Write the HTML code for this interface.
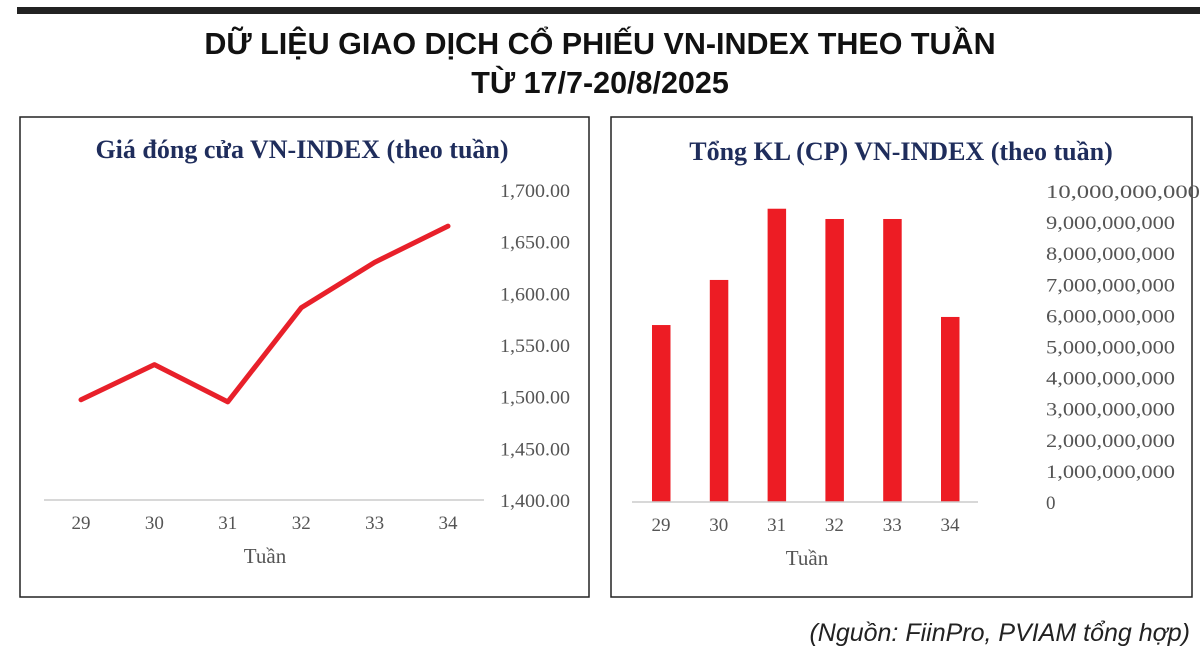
<!DOCTYPE html>
<html><head><meta charset="utf-8"><style>
body{margin:0;width:1200px;height:657px;background:#fff;overflow:hidden;position:relative;font-family:"Liberation Sans",sans-serif}
.t{position:absolute;left:0;width:1200px;text-align:center;font-weight:bold;font-size:30.5px;color:#111;letter-spacing:0px}
</style></head><body>
<div style="position:absolute;left:17px;top:7px;width:1183px;height:7px;background:#222"></div>
<div class="t" style="top:27px">DỮ LIỆU GIAO DỊCH CỔ PHIẾU VN-INDEX THEO TUẦN</div>
<div class="t" style="top:66px">TỪ 17/7-20/8/2025</div>
<svg width="1200" height="657" style="position:absolute;left:0;top:0" id="svg">
<rect x="20" y="117" width="569" height="480" fill="none" stroke="#222" stroke-width="1.5"/>
<rect x="611" y="117" width="581" height="480" fill="none" stroke="#222" stroke-width="1.5"/>
<text x="302" y="158" text-anchor="middle" font-family="Liberation Serif,serif" font-weight="bold" font-size="26" fill="#1f2d5c">Giá đóng cửa VN-INDEX (theo tuần)</text>
<text x="901" y="160" text-anchor="middle" font-family="Liberation Serif,serif" font-weight="bold" font-size="26" fill="#1f2d5c">Tổng KL (CP) VN-INDEX (theo tuần)</text>
<g id="left"></g><g id="right"></g>
<text x="265" y="563" text-anchor="middle" font-family="Liberation Serif,serif" font-size="21" fill="#555">Tuần</text>
<text x="807" y="565" text-anchor="middle" font-family="Liberation Serif,serif" font-size="21" fill="#555">Tuần</text>
<text x="1190" y="641" text-anchor="end" font-style="italic" font-size="25" fill="#222">(Nguồn: FiinPro, PVIAM tổng hợp)</text>
</svg>
<script>
const weeks=["29","30","31","32","33","34"];
const closePrice=[1497,1531,1495,1586,1630,1665];
const priceTicks=[1400,1450,1500,1550,1600,1650,1700];
const volume=[5.69e9,7.14e9,9.43e9,9.1e9,9.1e9,5.95e9];
const volTicks=[0,1e9,2e9,3e9,4e9,5e9,6e9,7e9,8e9,9e9,10e9];
const NS="http://www.w3.org/2000/svg";
function mk(tag,attrs,parent,txt){const e=document.createElementNS(NS,tag);for(const k in attrs)e.setAttribute(k,attrs[k]);if(txt!==undefined)e.textContent=txt;parent.appendChild(e);return e;}
const L=document.getElementById('left'),R=document.getElementById('right');
const lx=i=>81+i*73.4, ly=v=>500-(v-1400)*(310/300);
const lb=mk('line',{x1:44,x2:484,y1:500,y2:500,stroke:'#ccc','stroke-width':1.5},L);


priceTicks.forEach(t=>{const e=mk('text',{x:500,y:ly(t)+7,'font-family':'Liberation Serif,serif','font-size':19,fill:'#555',textLength:70,lengthAdjust:'spacingAndGlyphs'},L,t.toLocaleString('en-US',{minimumFractionDigits:2}));

});
weeks.forEach((w,i)=>{const e=mk('text',{x:lx(i),y:529,'text-anchor':'middle','font-family':'Liberation Serif,serif','font-size':19,fill:'#555'},L,w);

});
const ln=mk('polyline',{points:closePrice.map((v,i)=>lx(i)+','+ly(v)).join(' '),fill:'none',stroke:'#e8202a','stroke-width':5,'stroke-linejoin':'round','stroke-linecap':'round'},L);


const rx=i=>661+i*57.8, ry=v=>502-v/1e9*31.1;
volume.forEach((v,i)=>{const b=mk('rect',{x:rx(i)-9,y:ry(v),width:18.5,height:502-ry(v),fill:'#ed1c24'},R);

});
const rb=mk('line',{x1:632,x2:978,y1:502,y2:502,stroke:'#ccc','stroke-width':1.5},R);


volTicks.forEach(t=>{const s=t.toLocaleString('en-US');const a={x:1046,y:ry(t)+7,'font-family':'Liberation Serif,serif','font-size':19,fill:'#555'};if(s.length>1){a.textLength=s.length>13?154:129;a.lengthAdjust='spacingAndGlyphs';}
const e=mk('text',a,R,s);

});
weeks.forEach((w,i)=>{const e=mk('text',{x:rx(i),y:531,'text-anchor':'middle','font-family':'Liberation Serif,serif','font-size':19,fill:'#555'},R,w);

});
</script>
</body></html>
